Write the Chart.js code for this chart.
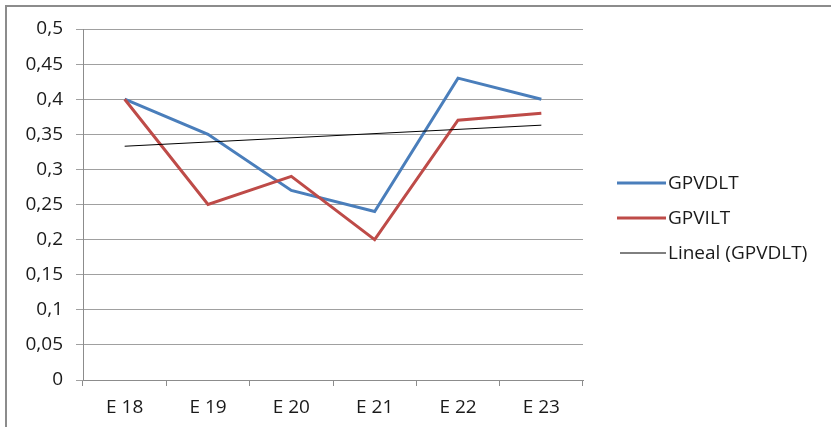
<!DOCTYPE html>
<html>
<head>
<meta charset="utf-8">
<script src="https://cdn.jsdelivr.net/npm/chart.js@4/dist/chart.umd.min.js"></script>
<style>
  html, body { margin: 0; padding: 0; background: #ffffff; }
  #wrap { position: relative; width: 832px; height: 427px; }
  #frame { position: absolute; left: 5px; top: 5px; width: 826px; height: 430px; border-left: 2px solid #8c8c8c; border-top: 2px solid #8c8c8c; box-sizing: border-box; pointer-events: none; }
  canvas { position: absolute; left: 0; top: 0; }
</style>
</head>
<body>
<div id="wrap">
  <canvas id="c" width="832" height="427"></canvas>
  <div id="frame"></div>
</div>
<script>
const categories = ['E 18', 'E 19', 'E 20', 'E 21', 'E 22', 'E 23'];
const gpvdltValues = [0.40, 0.35, 0.27, 0.24, 0.43, 0.40];
const gpviltValues = [0.40, 0.25, 0.29, 0.20, 0.37, 0.38];
// Linear trend line of GPVDLT: only its two end points, joined by a straight line
const trendValues = [0.333, null, null, null, null, 0.363];
const yTicks = [0, 0.05, 0.1, 0.15, 0.2, 0.25, 0.3, 0.35, 0.4, 0.45, 0.5];
const seriesLabels = ['GPVDLT', 'GPVILT', 'Lineal (GPVDLT)'];

const FONT = "'Open Sans', 'Liberation Sans', sans-serif";

const legendPlugin = {
  id: 'sideLegend',
  afterDraw(chart) {
    const ctx = chart.ctx;
    const items = [
      { ds: 0, y: 183, x0: 617, x1: 666 },
      { ds: 1, y: 218, x0: 617, x1: 666 },
      { ds: 2, y: 253, x0: 620, x1: 666 }
    ];
    ctx.save();
    ctx.font = '19px ' + FONT;
    ctx.textBaseline = 'middle';
    ctx.textAlign = 'left';
    items.forEach(it => {
      const d = chart.data.datasets[it.ds];
      ctx.strokeStyle = d.borderColor;
      ctx.lineWidth = d.borderWidth;
      ctx.beginPath();
      ctx.moveTo(it.x0, it.y);
      ctx.lineTo(it.x1, it.y);
      ctx.stroke();
      ctx.fillStyle = '#1a1a1a';
      ctx.fillText(d.label, 668, it.y + 1);
    });
    ctx.restore();
  }
};

new Chart(document.getElementById('c'), {
  type: 'line',
  data: {
    labels: categories,
    datasets: [
      { label: seriesLabels[0], data: gpvdltValues, borderColor: '#4a7ebb', backgroundColor: '#4a7ebb', borderWidth: 3, pointRadius: 0, tension: 0, order: 2 },
      { label: seriesLabels[1], data: gpviltValues, borderColor: '#be4b48', backgroundColor: '#be4b48', borderWidth: 3, pointRadius: 0, tension: 0, order: 1 },
      { label: seriesLabels[2], data: trendValues, borderColor: '#000000', backgroundColor: '#000000', borderWidth: 1, pointRadius: 0, tension: 0, spanGaps: true, order: 0 }
    ]
  },
  options: {
    responsive: false,
    animation: false,
    devicePixelRatio: 1,
    layout: { padding: { left: 8, right: 249, top: 29, bottom: 0 } },
    plugins: { legend: { display: false }, tooltip: { enabled: false } },
    scales: {
      x: {
        offset: true,
        afterFit(scale) { scale.height = 47; },
        grid: { display: true, drawOnChartArea: false, drawTicks: true, tickLength: 6, color: '#8c8c8c', offset: true },
        border: { display: true, color: '#8c8c8c', width: 1 },
        ticks: { color: '#1a1a1a', font: { family: FONT, size: 19 }, padding: 10, maxRotation: 0 }
      },
      y: {
        min: 0,
        max: 0.5,
        afterFit(scale) { scale.width = 75; },
        afterBuildTicks(scale) { scale.ticks = yTicks.map(v => ({ value: v })); },
        grid: { display: true, drawOnChartArea: true, drawTicks: true, tickLength: 7, color: '#a0a0a0' },
        border: { display: true, color: '#8c8c8c', width: 1 },
        ticks: {
          color: '#1a1a1a',
          font: { family: FONT, size: 19 },
          padding: 13,
          callback: v => String(+v.toFixed(2)).replace('.', ',')
        }
      }
    }
  },
  plugins: [legendPlugin]
});
</script>
</body>
</html>
